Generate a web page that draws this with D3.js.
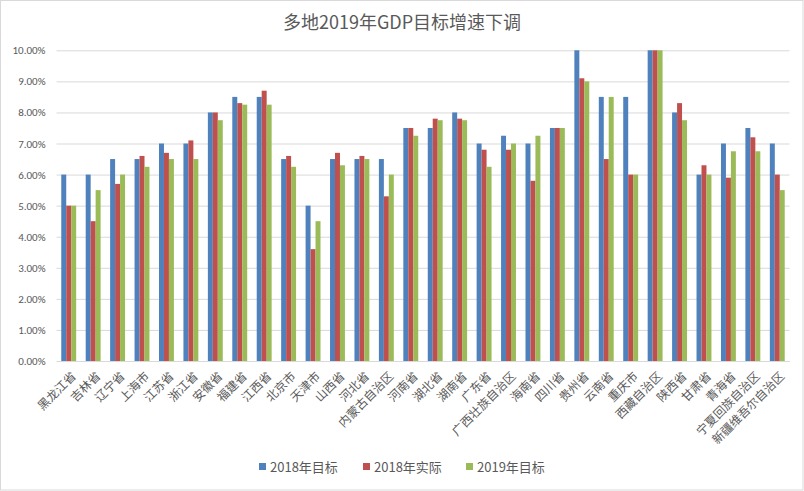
<!DOCTYPE html>
<html><head><meta charset="utf-8">
<script src="https://cdn.jsdelivr.net/npm/d3@7"></script>
<style>body{margin:0;background:#fff}svg{display:block}text{font-family:"Noto Sans CJK SC","Noto Sans",sans-serif}</style>
</head><body><svg id="c" width="804" height="491"></svg>
<script>
const categories = ["黑龙江省","吉林省","辽宁省","上海市","江苏省","浙江省","安徽省","福建省","江西省","北京市","天津市","山西省","河北省","内蒙古自治区","河南省","湖北省","湖南省","广东省","广西壮族自治区","海南省","四川省","贵州省","云南省","重庆市","西藏自治区","陕西省","甘肃省","青海省","宁夏回族自治区","新疆维吾尔自治区"];
const seriesNames = ["2018年目标","2018年实际","2019年目标"];
const target2018 = [6.0,6.0,6.5,6.5,7.0,7.0,8.0,8.5,8.5,6.5,5.0,6.5,6.5,6.5,7.5,7.5,8.0,7.0,7.25,7.0,7.5,10.0,8.5,8.5,10.0,8.0,6.0,7.0,7.5,7.0];
const actual2018 = [5.0,4.5,5.7,6.6,6.7,7.1,8.0,8.3,8.7,6.6,3.6,6.7,6.6,5.3,7.5,7.8,7.8,6.8,6.8,5.8,7.5,9.1,6.5,6.0,10.0,8.3,6.3,5.9,7.2,6.0];
const target2019 = [5.0,5.5,6.0,6.25,6.5,6.5,7.75,8.25,8.25,6.25,4.5,6.3,6.5,6.0,7.25,7.75,7.75,6.25,7.0,7.25,7.5,9.0,8.5,6.0,10.0,7.75,6.0,6.75,6.75,5.5];
const yTicks = [0,1,2,3,4,5,6,7,8,9,10];
const colors = ["#4F81BD","#C0504D","#9BBB59"];
const series = [target2018, actual2018, target2019];

const svg = d3.select("#c");
svg.append("rect").attr("x",0.5).attr("y",0.5).attr("width",802.5).attr("height",489.5).attr("fill","#fff").attr("stroke","#d9d9d9");

const L = 56.5, R = 789.5, T = 50.3, B = 361;
const x = d3.scaleBand().domain(categories).range([L, R]).paddingInner(0.39).paddingOuter(0.195);
const xs = d3.scaleBand().domain([0,1,2]).range([0, x.bandwidth()]);
const y = d3.scaleLinear().domain([0,10]).range([B, T]);

svg.append("text").attr("x",402).attr("y",29).attr("text-anchor","middle").attr("font-size",18).attr("fill","#595959").text("多地2019年GDP目标增速下调");

// gridlines
const yAxis = svg.append("g").attr("transform",`translate(${L},0)`)
  .call(d3.axisLeft(y).tickValues(yTicks).tickSize(-(R-L)).tickFormat(d=>d.toFixed(2)+"%"));
yAxis.select(".domain").remove();
yAxis.selectAll(".tick line").attr("stroke","#d9d9d9");
yAxis.selectAll(".tick text").attr("x",-11).attr("font-size",11).attr("fill","#595959").style("font-family","Calibri,Carlito,'Liberation Sans',sans-serif");

// bars
series.forEach((vals, si) => {
  svg.append("g").selectAll("rect").data(vals).join("rect")
    .attr("x",(d,i)=>x(categories[i])+xs(si))
    .attr("width",xs.bandwidth())
    .attr("y",d=>y(d))
    .attr("height",d=>y(0)-y(d))
    .attr("fill",colors[si]);
});

// x axis
const xAxis = svg.append("g").attr("transform",`translate(0,${B})`).call(d3.axisBottom(x).tickSize(0));
xAxis.select(".domain").attr("stroke","#d9d9d9");
xAxis.selectAll(".tick text")
  .attr("font-size",12).attr("fill","#595959")
  .attr("text-anchor","end").attr("dy","0.35em")
  .attr("transform","translate(5,13) rotate(-45)").attr("y",0).attr("x",0);

// legend
const legX = [259, 363, 466];
const lg = svg.append("g");
seriesNames.forEach((n,i)=>{
  lg.append("rect").attr("x",legX[i]).attr("y",463).attr("width",7).attr("height",7).attr("fill",colors[i]);
  lg.append("text").attr("x",legX[i]+11).attr("y",472).attr("font-size",13).attr("fill","#595959").text(n);
});
</script></body></html>
